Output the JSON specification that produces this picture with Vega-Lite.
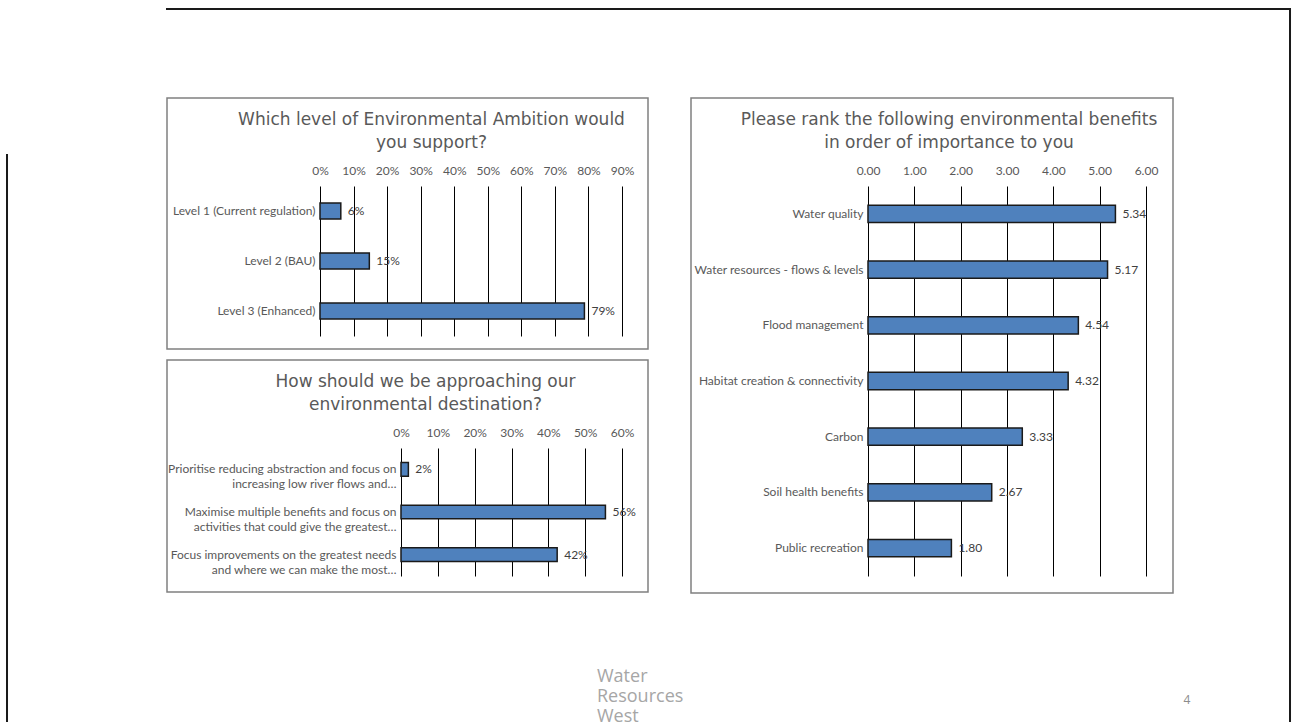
{
  "$schema": "https://vega.github.io/schema/vega-lite/v6.json",
  "padding": {"left": 6, "top": 8, "right": 0, "bottom": 0},
  "background": "white",
  "config": {
    "view": {"stroke": "#808080", "strokeWidth": 1.5},
    "axis": {"labelFont": "Lato", "labelFontSize": 12, "labelColor": "#595959", "domain": false, "ticks": false, "gridColor": "#000000", "gridWidth": 1, "labelOverlap": false, "labelFlush": false},
    "title": {"font": "DejaVu Sans", "fontSize": 17, "fontWeight": "normal", "color": "#595959", "lineHeight": 23, "frame": "group", "anchor": "middle"},
    "text": {"font": "Lato", "fontSize": 12, "color": "#404040"}
  },
  "spacing": 0,
  "hconcat": [
    {
      "spacing": 157,
      "hconcat": [
        {
          "spacing": 0,
          "vconcat": [
            {"width": 0.01, "height": 145, "view": {"stroke": null}, "data": {"values": []}, "mark": {"type": "point", "opacity": 0}},
            {"width": 0.01, "height": 569, "view": {"stroke": "#1a1a1a", "strokeWidth": 2}, "data": {"values": []}, "mark": {"type": "point", "opacity": 0}}
          ]
        },
        {
          "spacing": 73,
          "vconcat": [
            {
              "spacing": 86,
              "vconcat": [
                {"width": 1121, "height": 0.01, "view": {"stroke": "#1a1a1a", "strokeWidth": 2}, "data": {"values": []}, "mark": {"type": "point", "opacity": 0}},
                {
                  "spacing": 41,
                  "hconcat": [
                    {
                      "spacing": 9,
                      "vconcat": [
                        {
                          "width": 481, "height": 251,
                          "title": {"text": ["Which level of Environmental Ambition would", "you support?"], "offset": -54, "dx": 24},
                          "data": {"values": [
                            {"level": "Level 1 (Current regulation)", "share": 0.062},
                            {"level": "Level 2 (BAU)", "share": 0.147},
                            {"level": "Level 3 (Enhanced)", "share": 0.788}
                          ]},
                          "encoding": {
                            "y": {"field": "level", "type": "nominal", "sort": null, "title": null,
                                  "scale": {"range": [88, 238], "paddingInner": 0.68, "paddingOuter": 0.34},
                                  "axis": {"orient": "left", "offset": -153, "labelPadding": 5, "grid": false, "labelLimit": 0}},
                            "x": {"field": "share", "type": "quantitative", "title": null,
                                  "scale": {"domain": [0, 0.9], "range": [153, 455]},
                                  "axis": {"orient": "top", "offset": -83, "format": ".0%", "values": [0, 0.1, 0.2, 0.3, 0.4, 0.5, 0.6, 0.7, 0.8, 0.9], "grid": true, "labelPadding": 4}}
                          },
                          "layer": [
                            {"mark": {"type": "bar", "fill": "#4f81bd", "stroke": "#1a1a1a", "strokeWidth": 1.5}},
                            {"mark": {"type": "text", "align": "left", "baseline": "middle", "dx": 7}, "encoding": {"text": {"field": "share", "type": "quantitative", "format": ".0%"}}}
                          ]
                        },
                        {
                          "width": 481, "height": 232,
                          "title": {"text": ["How should we be approaching our", "environmental destination?"], "offset": -54, "dx": 18},
                          "data": {"values": [
                            {"approach": "Prioritise reducing abstraction and focus on\nincreasing low river flows and…", "share": 0.02},
                            {"approach": "Maximise multiple benefits and focus on\nactivities that could give the greatest…", "share": 0.555},
                            {"approach": "Focus improvements on the greatest needs\nand where we can make the most…", "share": 0.424}
                          ]},
                          "encoding": {
                            "y": {"field": "approach", "type": "nominal", "sort": null, "title": null,
                                  "scale": {"range": [88, 216], "paddingInner": 0.68, "paddingOuter": 0.34},
                                  "axis": {"orient": "left", "offset": -234, "labelPadding": 5, "grid": false, "labelLineHeight": 15, "labelLimit": 0, "labelExpr": "split(datum.label, '\\n')"}},
                            "x": {"field": "share", "type": "quantitative", "title": null,
                                  "scale": {"domain": [0, 0.6], "range": [234, 455]},
                                  "axis": {"orient": "top", "offset": -83, "format": ".0%", "values": [0, 0.1, 0.2, 0.3, 0.4, 0.5, 0.6], "grid": true, "labelPadding": 4}}
                          },
                          "layer": [
                            {"mark": {"type": "bar", "fill": "#4f81bd", "stroke": "#1a1a1a", "strokeWidth": 1.5}},
                            {"mark": {"type": "text", "align": "left", "baseline": "middle", "dx": 7}, "encoding": {"text": {"field": "share", "type": "quantitative", "format": ".0%"}}}
                          ]
                        }
                      ]
                    },
                    {
                      "width": 482, "height": 495,
                      "title": {"text": ["Please rank the following environmental benefits", "in order of importance to you"], "offset": -54, "dx": 17},
                      "data": {"values": [
                        {"benefit": "Water quality", "score": 5.34},
                        {"benefit": "Water resources - flows & levels", "score": 5.17},
                        {"benefit": "Flood management", "score": 4.54},
                        {"benefit": "Habitat creation & connectivity", "score": 4.32},
                        {"benefit": "Carbon", "score": 3.33},
                        {"benefit": "Soil health benefits", "score": 2.67},
                        {"benefit": "Public recreation", "score": 1.80}
                      ]},
                      "encoding": {
                        "y": {"field": "benefit", "type": "nominal", "sort": null, "title": null,
                              "scale": {"range": [88, 478], "paddingInner": 0.69, "paddingOuter": 0.345},
                              "axis": {"orient": "left", "offset": -177, "labelPadding": 5, "grid": false, "labelLimit": 0}},
                        "x": {"field": "score", "type": "quantitative", "title": null,
                              "scale": {"domain": [0, 6], "range": [177, 455]},
                              "axis": {"orient": "top", "offset": -83, "format": ".2f", "values": [0, 1, 2, 3, 4, 5, 6], "grid": true, "labelPadding": 4}}
                      },
                      "layer": [
                        {"mark": {"type": "bar", "fill": "#4f81bd", "stroke": "#1a1a1a", "strokeWidth": 1.5}},
                        {"mark": {"type": "text", "align": "left", "baseline": "middle", "dx": 7}, "encoding": {"text": {"field": "score", "type": "quantitative", "format": ".2f"}}}
                      ]
                    }
                  ]
                }
              ]
            },
            {
              "spacing": 150,
              "hconcat": [
                {
                  "width": 860, "height": 60,
                  "view": {"stroke": null},
                  "data": {"values": [
                    {"line": "Water"},
                    {"line": "Resources"},
                    {"line": "West"}
                  ]},
                  "mark": {"type": "text", "align": "left", "baseline": "middle", "font": "Open Sans", "fontSize": 18, "color": "#a6a6a6"},
                  "encoding": {
                    "y": {"field": "line", "type": "nominal", "sort": null, "axis": null},
                    "text": {"field": "line", "type": "nominal"}
                  }
                },
                {
                  "width": 20, "height": 60,
                  "view": {"stroke": null},
                  "data": {"values": [{"page": "4"}]},
                  "mark": {"type": "text", "align": "center", "baseline": "middle", "dy": 3, "font": "Open Sans", "fontSize": 12, "color": "#8c8c8c"},
                  "encoding": {
                    "text": {"field": "page", "type": "nominal"}
                  }
                }
              ]
            }
          ]
        }
      ]
    },
    {"width": 0.01, "height": 714, "view": {"stroke": "#1a1a1a", "strokeWidth": 2}, "data": {"values": []}, "mark": {"type": "point", "opacity": 0}}
  ]
}
